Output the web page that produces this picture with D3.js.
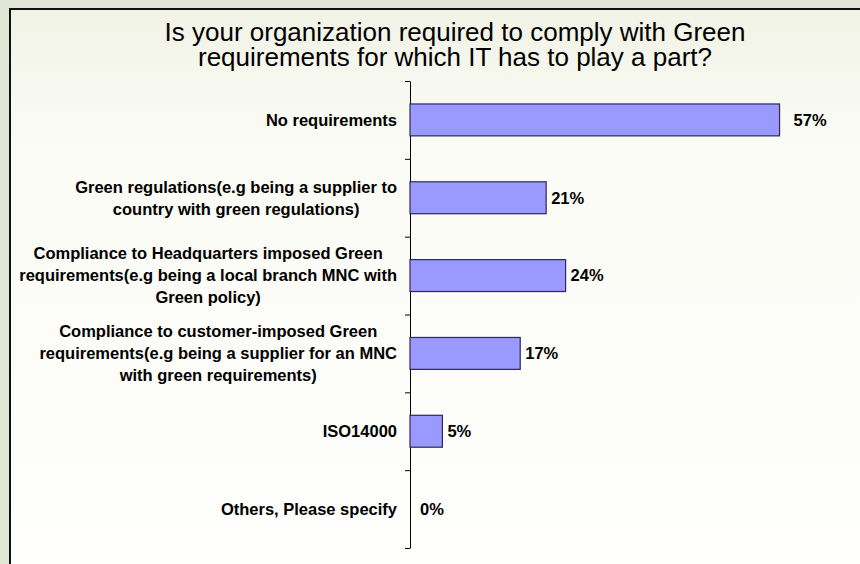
<!DOCTYPE html>
<html>
<head>
<meta charset="utf-8">
<script src="https://cdn.jsdelivr.net/npm/d3@7"></script>
<style>
  body { margin: 0; background: #fff; }
  svg { display: block; font-family: "Liberation Sans", Arial, sans-serif; }
</style>
</head>
<body>
<div id="chart"></div>
<script>
var svgWidth = 860;
var svgHeight = 564;

// chart data
var titleLines = [
  "Is your organization required to comply with Green",
  "requirements for which IT has to play a part?"
];

var categories = [
  ["No requirements"],
  ["Green regulations(e.g being a supplier to", "country with green regulations)"],
  ["Compliance to Headquarters imposed Green", "requirements(e.g being a local branch MNC with", "Green policy)"],
  ["Compliance to customer-imposed Green", "requirements(e.g being a supplier for an MNC", "with green requirements)"],
  ["ISO14000"],
  ["Others, Please specify"]
];

var values = [57, 21, 24, 17, 5, 0];

var margin = { top: 81, left: 410 };
var plotHeight = 467;
var plotWidth = 389;

var svg = d3.select("#chart")
  .append("svg")
  .attr("width", svgWidth)
  .attr("height", svgHeight);

var defs = svg.append("defs");
var grad = defs.append("linearGradient")
  .attr("id", "panelGrad")
  .attr("x1", 0).attr("y1", 0).attr("x2", 0).attr("y2", 1);
grad.append("stop").attr("offset", "0%").attr("stop-color", "#f1f3e6");
grad.append("stop").attr("offset", "22%").attr("stop-color", "#fafbf4");
grad.append("stop").attr("offset", "100%").attr("stop-color", "#ffffff");

// slide background + panel
svg.append("rect")
  .attr("width", svgWidth)
  .attr("height", svgHeight)
  .attr("fill", "#e2e6d6");

svg.append("rect")
  .attr("x", 10)
  .attr("y", 9)
  .attr("width", svgWidth + 20)
  .attr("height", svgHeight + 20)
  .attr("fill", "url(#panelGrad)")
  .attr("stroke", "#111")
  .attr("stroke-width", 2);

// title
svg.append("g")
  .selectAll("text")
  .data(titleLines)
  .enter()
  .append("text")
  .attr("x", 455)
  .attr("y", (d, i) => 41 + i * 25)
  .attr("text-anchor", "middle")
  .attr("font-size", 26)
  .attr("fill", "#000")
  .text(d => d);

var chartGroup = svg.append("g")
  .attr("transform", `translate(${margin.left}, ${margin.top})`);

// scales
var yScale = d3.scaleBand()
  .domain(d3.range(categories.length))
  .range([0, plotHeight])
  .paddingInner(0.59)
  .paddingOuter(0.295);

var tickScale = d3.scaleLinear()
  .domain([0, categories.length])
  .range([0, plotHeight]);

var xScale = d3.scaleLinear()
  .domain([0, 60])
  .range([0, plotWidth]);

// axis with ticks between categories
var leftAxis = d3.axisLeft(tickScale)
  .tickValues(d3.range(categories.length + 1))
  .tickSize(5)
  .tickSizeOuter(0)
  .tickFormat("");

chartGroup.append("g")
  .attr("class", "y-axis")
  .call(leftAxis)
  .call(g => g.select(".domain").attr("stroke", "#000"))
  .call(g => g.selectAll(".tick line").attr("stroke", "#000"));

// bars
chartGroup.selectAll("rect.bar")
  .data(values)
  .enter()
  .append("rect")
  .attr("class", "bar")
  .attr("x", 0)
  .attr("y", (d, i) => yScale(i))
  .attr("width", d => xScale(d))
  .attr("height", yScale.bandwidth())
  .attr("fill", "#9999ff")
  .attr("stroke", d => d > 0 ? "#2a2a55" : "none")
  .attr("stroke-width", 1.2);

// value labels
var maxValue = d3.max(values);
chartGroup.selectAll("text.value")
  .data(values)
  .enter()
  .append("text")
  .attr("class", "value")
  .attr("x", d => xScale(d) + (d === 0 ? 10 : d === maxValue ? 14 : 5))
  .attr("y", (d, i) => yScale(i) + yScale.bandwidth() / 2)
  .attr("dy", "0.35em")
  .attr("font-size", 16.5)
  .attr("font-weight", "bold")
  .text(d => d + "%");

// category labels: block right-aligned, lines centred in the block
var labelGroups = chartGroup.selectAll("g.cat")
  .data(categories)
  .enter()
  .append("g")
  .attr("class", "cat");

labelGroups.each(function(lines, i) {
  var g = d3.select(this);
  var lineHeight = 22;
  var cy = yScale(i) + yScale.bandwidth() / 2;
  var texts = g.selectAll("text")
    .data(lines)
    .enter()
    .append("text")
    .attr("y", (d, j) => cy + (j - (lines.length - 1) / 2) * lineHeight)
    .attr("dy", "0.35em")
    .attr("text-anchor", "middle")
    .attr("font-size", 16.5)
    .attr("font-weight", "bold")
    .text(d => d);
  var widest = d3.max(texts.nodes(), n => n.getComputedTextLength());
  texts.attr("x", -13 - widest / 2);
});
</script>
</body>
</html>
